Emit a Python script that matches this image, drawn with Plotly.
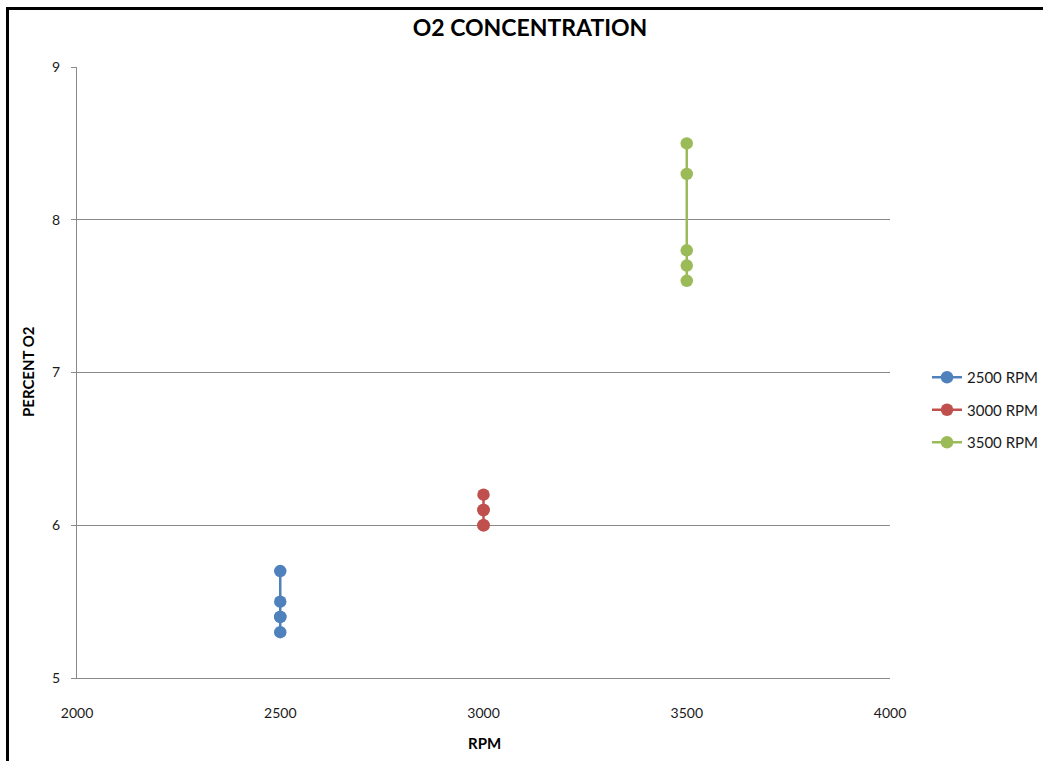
import plotly.graph_objects as go

# O2 readings (percent) at each engine speed
rpm_2500 = [2500, 2500, 2500, 2500, 2500]
o2_2500 = [5.7, 5.5, 5.4, 5.4, 5.3]
rpm_3000 = [3000, 3000, 3000, 3000, 3000]
o2_3000 = [6.2, 6.1, 6.1, 6.0, 6.0]
rpm_3500 = [3500, 3500, 3500, 3500, 3500]
o2_3500 = [8.5, 8.3, 7.8, 7.7, 7.6]

series_names = ["2500 RPM", "3000 RPM", "3500 RPM"]
series_colors = ["#4F81BD", "#C0504D", "#9BBB59"]

x_ticks = [2000, 2500, 3000, 3500, 4000]
y_ticks = [5, 6, 7, 8, 9]

FONT = "Lato, 'Open Sans', sans-serif"
GRID = "#898989"

fig = go.Figure()
for name, xs, ys, color in zip(series_names,
                                [rpm_2500, rpm_3000, rpm_3500],
                                [o2_2500, o2_3000, o2_3500],
                                series_colors):
    fig.add_trace(go.Scatter(
        x=xs, y=ys, name=name, mode="lines+markers",
        line=dict(color=color, width=2.5),
        marker=dict(color=color, size=12.5),
        legendgroup=name,
    ))

W, H = 1043, 761
L, R, T, B = 77, 153, 67, 83
pw, ph = W - L - R, H - T - B

def px_x(v):
    return (v - L) / pw

def px_y(v):
    return (H - B - v) / ph

fig.update_layout(
    width=W, height=H,
    margin=dict(l=L, r=R, t=T, b=B, pad=0, autoexpand=False),
    paper_bgcolor="white", plot_bgcolor="white",
    font=dict(family=FONT, size=14, color="#1a1a1a"),
    title=dict(text="<b>O2 CONCENTRATION</b>", x=530 / W, xanchor="center", xref="container",
               y=1 - 28 / H, yanchor="middle", yref="container",
               font=dict(size=23, color="black", family=FONT)),
    xaxis=dict(range=[2000, 4000], tickvals=x_ticks, ticktext=[str(v) for v in x_ticks],
               showgrid=False, zeroline=False, showline=True, linecolor=GRID, linewidth=1,
               ticks="", ticklabelstandoff=22, tickfont=dict(size=14)),
    yaxis=dict(range=[5, 9], tickvals=y_ticks, ticktext=[str(v) for v in y_ticks],
               showgrid=True, gridcolor=GRID, gridwidth=1, zeroline=False,
               showline=True, linecolor=GRID, linewidth=1,
               ticks="outside", ticklen=5, tickcolor=GRID, ticklabelstandoff=8,
               tickfont=dict(size=14)),
    legend=dict(x=px_x(927), xanchor="left", y=px_y(410), yanchor="middle",
                font=dict(size=15, family=FONT, color="#1a1a1a"),
                tracegroupgap=10, itemwidth=30, bgcolor="rgba(0,0,0,0)"),
    showlegend=True,
)

# axis titles
fig.add_annotation(text="<b>RPM</b>", x=px_x(484), y=px_y(743), xref="paper", yref="paper",
                   showarrow=False, xanchor="center", yanchor="middle",
                   font=dict(size=15, color="black", family=FONT))
fig.add_annotation(text="<b>PERCENT O2</b>", x=px_x(28), y=px_y(372), xref="paper", yref="paper",
                   showarrow=False, xanchor="center", yanchor="middle", textangle=-90,
                   font=dict(size=15, color="black", family=FONT))

# frame lines along the left and top edges
fig.add_shape(type="line", xref="paper", yref="paper",
              x0=px_x(7.5), x1=px_x(7.5), y0=px_y(H + 5), y1=px_y(7),
              line=dict(color="black", width=3))
fig.add_shape(type="line", xref="paper", yref="paper",
              x0=px_x(6), x1=px_x(W + 5), y0=px_y(8.5), y1=px_y(8.5),
              line=dict(color="black", width=3))

fig.write_html("out.html")
